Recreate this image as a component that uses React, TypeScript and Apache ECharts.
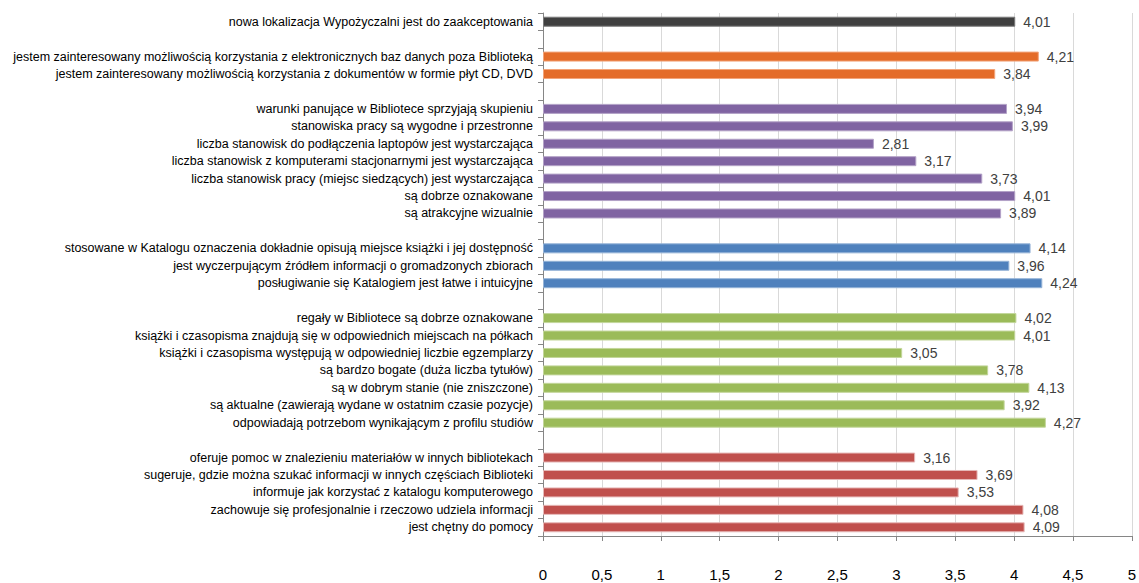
import React, { useEffect, useRef } from "react";
import * as echarts from "echarts";

const groupColors = ["#404040", "#E46C29", "#8064A2", "#4F81BD", "#9BBB59", "#C0504D"];
const groupBorders = ["#7a7a7a", "#F2A47A", "#B3A2C7", "#95B3D7", "#C3D69B", "#E6B9B8"];

const labels0 = ["nowa lokalizacja Wypożyczalni jest do zaakceptowania"];
const values0 = [4.01];

const labels1 = [
  "jestem zainteresowany możliwością korzystania z elektronicznych baz danych poza Biblioteką",
  "jestem zainteresowany możliwością korzystania z dokumentów w formie płyt CD, DVD",
];
const values1 = [4.21, 3.84];

const labels2 = [
  "warunki panujące w Bibliotece sprzyjają skupieniu",
  "stanowiska pracy są wygodne i przestronne",
  "liczba stanowisk do podłączenia laptopów jest wystarczająca",
  "liczba stanowisk z komputerami stacjonarnymi jest wystarczająca",
  "liczba stanowisk pracy (miejsc siedzących) jest wystarczająca",
  "są dobrze oznakowane",
  "są atrakcyjne wizualnie",
];
const values2 = [3.94, 3.99, 2.81, 3.17, 3.73, 4.01, 3.89];

const labels3 = [
  "stosowane w Katalogu oznaczenia dokładnie opisują miejsce książki i jej dostępność",
  "jest wyczerpującym źródłem informacji o gromadzonych zbiorach",
  "posługiwanie się Katalogiem jest łatwe i intuicyjne",
];
const values3 = [4.14, 3.96, 4.24];

const labels4 = [
  "regały w Bibliotece są dobrze oznakowane",
  "książki i czasopisma znajdują się w odpowiednich miejscach na półkach",
  "książki i czasopisma występują w odpowiedniej liczbie egzemplarzy",
  "są bardzo bogate (duża liczba tytułów)",
  "są w dobrym stanie (nie zniszczone)",
  "są aktualne (zawierają wydane w ostatnim czasie pozycje)",
  "odpowiadają potrzebom wynikającym z profilu studiów",
];
const values4 = [4.02, 4.01, 3.05, 3.78, 4.13, 3.92, 4.27];

const labels5 = [
  "oferuje pomoc w znalezieniu materiałów w innych bibliotekach",
  "sugeruje, gdzie można szukać informacji w innych częściach Biblioteki",
  "informuje jak korzystać z katalogu komputerowego",
  "zachowuje się profesjonalnie i rzeczowo udziela informacji",
  "jest chętny do pomocy",
];
const values5 = [3.16, 3.69, 3.53, 4.08, 4.09];

const groupLabels = [labels0, labels1, labels2, labels3, labels4, labels5];
const groupValues = [values0, values1, values2, values3, values4, values5];

const fmt = (v: number) => String(v).replace(".", ",");

export default function App() {
  const ref = useRef<HTMLDivElement>(null);
  useEffect(() => {
    if (!ref.current) return;
    const chart = echarts.init(ref.current, null, { renderer: "svg" });
    const categories: string[] = [];
    const data: any[] = [];
    groupLabels.forEach((labs, g) => {
      if (g > 0) {
        categories.push("");
        data.push(null);
      }
      labs.forEach((l, i) => {
        categories.push(l);
        data.push({
          value: groupValues[g][i],
          itemStyle: { color: groupColors[g], borderColor: groupBorders[g], borderWidth: 1 },
        });
      });
    });
    chart.setOption({
      animation: false,
      grid: { left: 543, right: 6, top: 13, bottom: 47, containLabel: false },
      xAxis: {
        type: "value",
        min: 0,
        max: 5,
        interval: 0.5,
        axisLine: { show: true, lineStyle: { color: "#868686" } },
        axisTick: { show: true, length: 5, lineStyle: { color: "#868686" } },
        splitLine: { show: true, lineStyle: { color: "#D9D9D9", width: 1 } },
        axisLabel: {
          margin: 31,
          color: "#000",
          fontSize: 15,
          fontFamily: "Liberation Sans Narrow, Liberation Sans, sans-serif",
          formatter: (v: number) => fmt(v),
        },
      },
      yAxis: {
        type: "category",
        inverse: true,
        data: categories,
        axisLine: { show: true, lineStyle: { color: "#868686" } },
        axisTick: { show: true, length: 5, interval: 0, lineStyle: { color: "#868686" } },
        axisLabel: {
          interval: 0,
          margin: 10,
          color: "#000",
          fontSize: 12.5,
          fontFamily: "Liberation Sans Narrow, Liberation Sans, sans-serif",
        },
        splitLine: { show: false },
      },
      series: [
        {
          type: "bar",
          data,
          barWidth: 10,
          label: {
            show: true,
            position: "right",
            distance: 8,
            color: "#404040",
            fontSize: 14,
            fontFamily: "Liberation Sans Narrow, Liberation Sans, sans-serif",
            formatter: (p: any) => fmt(p.value),
          },
        },
      ],
    });
    return () => chart.dispose();
  }, []);
  return <div ref={ref} style={{ width: 1139, height: 583, position: "absolute", left: 0, top: 0 }} />;
}
